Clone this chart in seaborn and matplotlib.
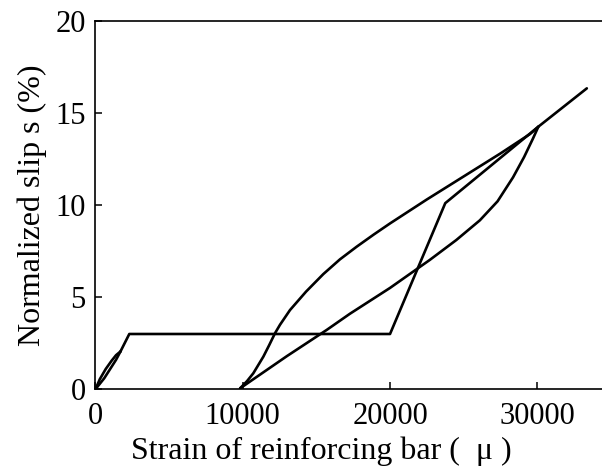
import matplotlib
matplotlib.use("Agg")
import matplotlib.pyplot as plt
import seaborn as sns
import pandas as pd

# small loop near origin
loop_up_strain = [0, 300, 700, 1100, 1400, 1700]
loop_up_slip = [0, 0.55, 1.1, 1.55, 1.85, 2.05]
loop_down_strain = [1700, 1400, 1000, 600, 250, 0]
loop_down_slip = [2.05, 1.6, 1.1, 0.6, 0.25, 0]

# first loading branch: plateau then steep rise
load_strain = [1700, 2300, 20000, 23750, 30070]
load_slip = [2.05, 3.0, 3.0, 10.1, 14.25]

# unloading (upper curve)
unload_strain = [30070, 29500, 27500, 25000, 22500, 20000, 18900, 17740,
                 16600, 15470, 14300, 13210, 12530, 12190, 11800, 11400,
                 10720, 10300, 9820]
unload_slip = [14.25, 13.85, 12.8, 11.55, 10.3, 9.0, 8.4, 7.74,
               7.05, 6.25, 5.3, 4.3, 3.5, 3.04, 2.4, 1.77,
               0.87, 0.45, 0.05]

# reloading (lower curve)
reload_strain = [9820, 13000, 15700, 17280, 20000, 22700, 24500, 26100,
                 27300, 28350, 29100, 29700, 30070, 33360]
reload_slip = [0.05, 1.8, 3.22, 4.1, 5.5, 7.02, 8.1, 9.17,
               10.2, 11.5, 12.6, 13.6, 14.25, 16.33]

segments = [
    (loop_up_strain, loop_up_slip),
    (loop_down_strain, loop_down_slip),
    (load_strain, load_slip),
    (unload_strain, unload_slip),
    (reload_strain, reload_slip),
]


def main():
    sns.set_theme(style="ticks")
    plt.rcParams["font.family"] = ["Liberation Serif", "DejaVu Serif"]
    plt.rcParams["text.color"] = "black"
    plt.rcParams["axes.labelcolor"] = "black"

    fig = plt.figure(figsize=(6.02, 4.73), dpi=100)
    ax = fig.add_axes([0.1585, 0.177, 0.8415, 0.7792])

    for strain, slip in segments:
        df = pd.DataFrame({"strain": strain, "slip": slip})
        sns.lineplot(data=df, x="strain", y="slip", sort=False, estimator=None,
                     color="black", linewidth=1.9, ax=ax)

    ax.set_xlim(0, 34390)
    ax.set_ylim(0, 20)
    ax.set_xticks([0, 10000, 20000, 30000])
    ax.set_yticks([0, 5, 10, 15, 20])
    ax.tick_params(direction="in", length=5, width=1.1, labelsize=22,
                   colors="black", labelcolor="black")
    ax.tick_params(axis="x", pad=9)
    ax.tick_params(axis="y", pad=7)
    for side in ["left", "bottom", "top"]:
        ax.spines[side].set_linewidth(1.2)
        ax.spines[side].set_color("black")
    ax.spines["right"].set_visible(False)

    ax.set_xlabel("Strain of reinforcing bar (  \u03bc )", fontsize=23,
                  labelpad=4, color="black")
    ax.xaxis.label.set_x(0.445)
    ax.set_ylabel("Normalized slip s (%)", fontsize=23, labelpad=6,
                  color="black")

    fig.savefig("out.png", dpi=100)
    plt.close(fig)


if __name__ == "__main__":
    main()
